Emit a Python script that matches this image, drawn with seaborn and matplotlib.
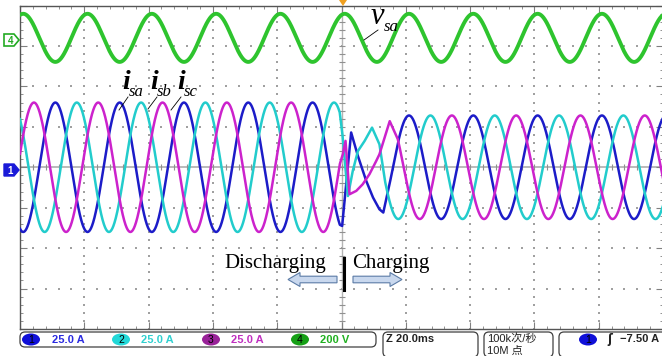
import matplotlib.pyplot as plt
import matplotlib.patches as mpatches
import numpy as np
import pandas as pd
import seaborn as sns

# scope settings (per division)
ms_per_div = 20.0
amps_per_div = 25.0
volts_per_div = 200.0
ch4_offset_div = 3.2

# steady-state readings
period_ms = 20.0
v_peak = 119.0
v_phase_ms = 1.0
i_peak_discharge = 40.0
i_peak_charge = 32.0
signal_names = ["i_sa", "i_sb", "i_sc"]
phase_lag_ms = [0.0, 20.0 / 3, 40.0 / 3]

# switching transient, read point by point (ms, A)
sa_t = [-0.5, 0.2, 3.0, 5.1, 7.7, 9.8, 11.8, 13.0]
sa_a = [-35.6, -36.3, 21.5, 7.0, -8.5, -18.7, -26.0, -28.0]
sb_t = [-0.5, 0.3, 2.0, 3.5, 5.1, 7.2, 9.5, 11.8]
sb_a = [33.0, 20.0, -17.8, -2.3, 10.0, 16.3, 24.5, 14.2]
sc_t = [-0.5, 0.4, 1.25, 2.5, 4.6, 6.6, 8.7, 10.8, 11.8, 15.0]
sc_a = [2.1, 8.0, 16.3, -16.7, -14.6, -10.5, -4.3, 3.9, 8.0, 28.5]
settle_ms = [14.5, 13.5, 17.5]

colors = {"i_sa": "#1c1cc8", "i_sb": "#22cccc", "i_sc": "#cc22cc"}
v_color = "#2ec42e"

t = np.linspace(-100, 100, 4001)


def phase_wave(k, tr_t, tr_a):
    arg = 2 * np.pi * (t - v_phase_ms - phase_lag_ms[k]) / period_ms
    pre = t < tr_t[0]
    post = t >= settle_ms[k]
    ts = np.concatenate([t[pre], tr_t, t[post]])
    a = np.concatenate([-i_peak_discharge * np.cos(arg[pre]), tr_a,
                        i_peak_charge * np.cos(arg[post])])
    return ts, a


frames = []
for k, (tr_t, tr_a) in enumerate([(sa_t, sa_a), (sb_t, sb_a), (sc_t, sc_a)]):
    ts, a = phase_wave(k, tr_t, tr_a)
    frames.append(pd.DataFrame({"t": ts, "div": a / amps_per_div,
                                "signal": signal_names[k]}))
df_i = pd.concat(frames, ignore_index=True)

v = v_peak * np.cos(2 * np.pi * (t - v_phase_ms) / period_ms)
df_v = pd.DataFrame({"t": t, "div": v / volts_per_div + ch4_offset_div})

fig = plt.figure(figsize=(6.62, 3.56), dpi=100)
fig.patch.set_facecolor("white")
ax = fig.add_axes([20 / 662, 27 / 356, 643 / 662, 323.5 / 356])
ax.set_xlim(-5 * ms_per_div, 5 * ms_per_div)
ax.set_ylim(-4, 4)

# graticule
gx = np.arange(-80, 81, 20)
gy = np.arange(-3, 4, 1)
dots_x, dots_y = [], []
for x in gx:
    if x != 0:
        yy = np.arange(-4, 4.01, 0.2)
        dots_x += [x] * len(yy)
        dots_y += list(yy)
for y in gy:
    if y != 0:
        xx = np.arange(-100, 100.1, 4)
        dots_x += list(xx)
        dots_y += [y] * len(xx)
ax.scatter(dots_x, dots_y, s=1.3, marker="s", color="#a0a0a0", linewidths=0, zorder=1)
ax.axhline(0, color="#b4b4b4", lw=1.3, zorder=1)
ax.axvline(0, color="#b4b4b4", lw=1.0, zorder=1)
mx = np.arange(-100, 100.1, 4)
my = np.arange(-4, 4.01, 0.2)
ax.plot(mx, np.zeros_like(mx), ls="none", marker="|", ms=4, color="#909090", mew=0.8, zorder=1)
ax.plot(np.zeros_like(my), my, ls="none", marker="_", ms=5, color="#909090", mew=0.8, zorder=1)

ax.set_xticks(np.arange(-100, 101, 20))
ax.set_xticks(np.arange(-100, 101, 4), minor=True)
ax.set_yticks(np.arange(-4, 4.1, 1))
ax.set_yticks(np.arange(-4, 4.1, 0.2), minor=True)
ax.tick_params(which="both", direction="in", top=True, right=True,
               labelbottom=False, labelleft=False, color="#808080")
ax.tick_params(which="major", length=5)
ax.tick_params(which="minor", length=2.5)
for s in ax.spines.values():
    s.set_color("#555555")
    s.set_linewidth(1.0)

sns.lineplot(data=df_v, x="t", y="div", color=v_color, lw=2.8, ax=ax,
             estimator=None, sort=False, zorder=3)
sns.lineplot(data=df_i, x="t", y="div", hue="signal", palette=colors, lw=1.8,
             ax=ax, estimator=None, sort=False, legend=False, zorder=3)
ax.set_xlabel("")
ax.set_ylabel("")

# overlay in pixel coordinates
ov = fig.add_axes([0, 0, 1, 1], zorder=5)
ov.set_xlim(0, 662)
ov.set_ylim(356, 0)
ov.axis("off")
ov.patch.set_alpha(0)

serif = ["Liberation Serif", "DejaVu Serif"]
sans = ["Liberation Sans", "Noto Sans CJK SC", "DejaVu Sans"]

# channel markers
ov.add_patch(mpatches.Polygon([(4, 34), (14, 34), (19, 40), (14, 46), (4, 46)],
                              closed=True, fc="white", ec="#22aa22", lw=1.2))
ov.text(10.5, 40.5, "4", color="#22aa22", fontsize=7, fontweight="bold",
        ha="center", va="center", family=sans)
ov.add_patch(mpatches.Polygon([(4, 164), (14, 164), (19, 170), (14, 176), (4, 176)],
                              closed=True, fc="#1a1ad8", ec="#1a1ad8", lw=1.0))
ov.text(10.5, 170.5, "1", color="white", fontsize=7, fontweight="bold",
        ha="center", va="center", family=sans)
ov.add_patch(mpatches.Polygon([(339, 0), (347, 0), (343, 6)], closed=True,
                              fc="#f0a020", ec="none"))

# waveform labels
ov.text(371, 24, "v", fontsize=22, style="italic", family=serif, ha="left", va="baseline")
ov.text(384, 31, "sa", fontsize=12, style="italic", family=serif, ha="left", va="baseline")
ov.plot([378, 364], [30, 40], color="black", lw=0.6)
for x0, sub in [(122, "sa"), (150, "sb"), (177, "sc")]:
    ov.text(x0, 89, "i", fontsize=20, style="italic", fontweight="bold", family=serif,
            ha="left", va="baseline")
    ov.text(x0 + 7, 96, sub, fontsize=12, style="italic", family=serif, ha="left",
            va="baseline")
ov.plot([128, 119], [97, 110], color="black", lw=0.6)
ov.plot([157, 148], [97, 109], color="black", lw=0.6)
ov.plot([181, 171], [97, 110], color="black", lw=0.6)

# mode annotation
ov.text(224, 268, "Discharging", fontsize=15, family=serif, ha="left", va="baseline")
ov.text(352, 268, "Charging", fontsize=15, family=serif, ha="left", va="baseline")
ov.plot([344, 344], [258, 290], color="black", lw=2.2)
arrow_l = [(288, 279.5), (300, 272.5), (300, 276.2), (337, 276.2), (337, 282.8),
           (300, 282.8), (300, 286.5)]
arrow_r = [(402, 279.5), (390, 272.5), (390, 276.2), (353, 276.2), (353, 282.8),
           (390, 282.8), (390, 286.5)]
for pts in (arrow_l, arrow_r):
    ov.add_patch(mpatches.Polygon(pts, closed=True, fc="#c9d8ee", ec="#5b7ba6", lw=0.8))


# status bar
def box(x0, x1, y0, y1):
    ov.add_patch(mpatches.FancyBboxPatch((x0, y0), x1 - x0, y1 - y0,
                                         boxstyle="round,pad=0,rounding_size=5",
                                         fc="white", ec="#404040", lw=0.9))


def chan(xc, yc, label, fc):
    ov.add_patch(mpatches.Ellipse((xc, yc), 18, 12, fc=fc, ec="none"))
    ov.text(xc, yc + 0.5, label, fontsize=7.5, color="black", ha="center", va="center",
            family=sans)


box(20, 376, 332, 347)
box(383, 478, 332, 357)
box(484, 553, 332, 357)
box(559, 668, 332, 357)
chans = [("1", "#1010d8", "25.0 A", "#2a2ae0", 31, 52),
         ("2", "#22d8d8", "25.0 A", "#30d0d0", 121, 141),
         ("3", "#992299", "25.0 A", "#c030c0", 211, 231),
         ("4", "#16a016", "200 V", "#20b020", 300, 320)]
for lab, fc, txt, tc, xc, xt in chans:
    chan(xc, 339.5, lab, fc)
    ov.text(xt, 340, txt, fontsize=8, color=tc, fontweight="bold", ha="left",
            va="center", family=sans)
ov.text(386, 339, "Z 20.0ms", fontsize=8, fontweight="bold", color="#222222",
        ha="left", va="center", family=sans)
ov.text(487, 339, "100k次/秒", fontsize=8, color="#222222", ha="left", va="center",
        family=sans)
ov.text(487, 351, "10M 点", fontsize=8, color="#222222", ha="left", va="center",
        family=sans)
chan(588, 339.5, "1", "#1010d8")
ov.text(607, 339.5, "ʃ", fontsize=8.5, fontweight="bold", color="#222222", ha="left",
        va="center", family=["DejaVu Sans"])
ov.text(620, 339.5, "−7.50 A", fontsize=8, fontweight="bold", color="#222222",
        ha="left", va="center", family=sans)

fig.savefig("out.png", dpi=100)
